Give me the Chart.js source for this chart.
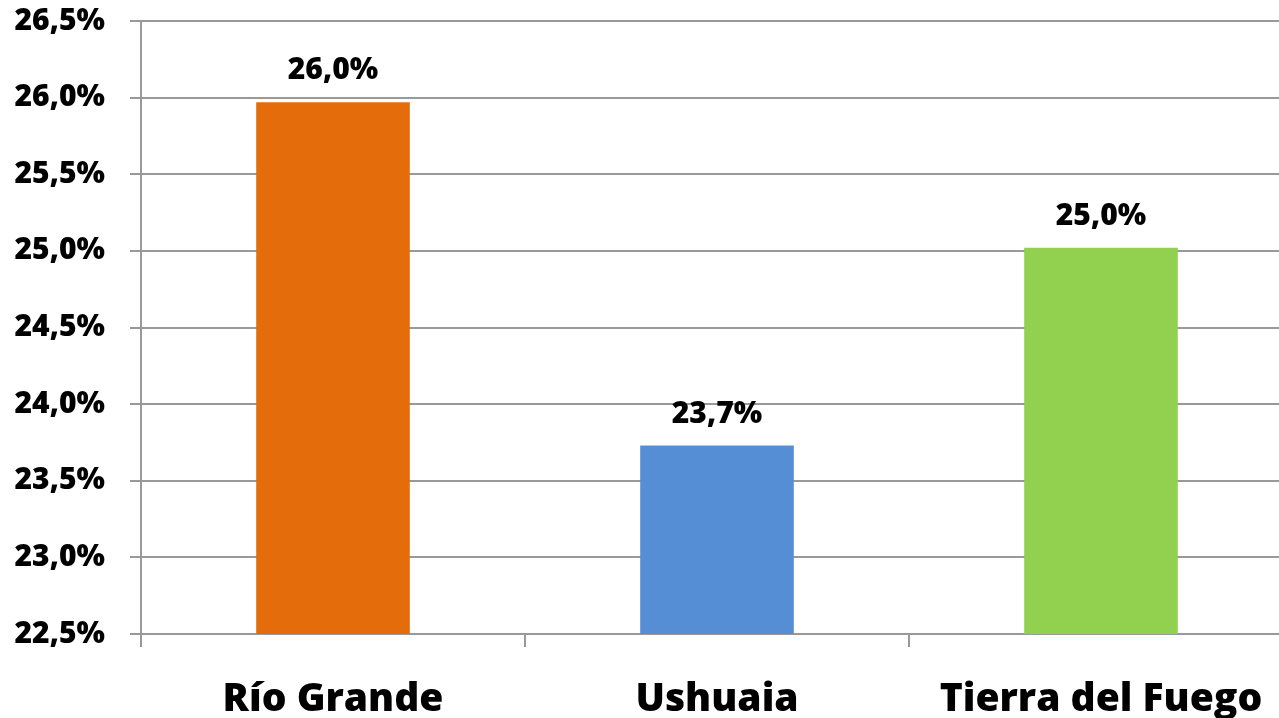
<!DOCTYPE html>
<html>
<head>
<meta charset="utf-8">
<script src="https://cdn.jsdelivr.net/npm/chart.js@4.4.1/dist/chart.umd.min.js"></script>
<style>
  html, body { margin: 0; padding: 0; background: #fff; overflow: hidden; }
  #wrap { width: 1300px; height: 718px; position: relative; }
</style>
</head>
<body>
<div id="wrap"><canvas id="c"></canvas></div>
<script>
const categories = ['Río Grande', 'Ushuaia', 'Tierra del Fuego'];
const values = [25.97, 23.73, 25.02];
const barColors = ['#E46C0A', '#558ED5', '#92D050'];
const yMin = 22.5, yMax = 26.5, yStep = 0.5;

const fmt = v => v.toFixed(1).replace('.', ',') + '%';
const FONT = "'Open Sans', sans-serif";
const gridColor = '#999999';

const valueLabels = {
  id: 'valueLabels',
  afterDatasetsDraw(chart) {
    const ctx = chart.ctx;
    const meta = chart.getDatasetMeta(0);
    ctx.save();
    ctx.font = "800 30px " + FONT;
    ctx.fillStyle = '#000';
    ctx.textAlign = 'center';
    ctx.textBaseline = 'alphabetic';
    meta.data.forEach((bar, i) => {
      ctx.fillText(fmt(values[i]), bar.x, bar.y - 23);
    });
    ctx.restore();
  }
};

new Chart(document.getElementById('c'), {
  type: 'bar',
  data: {
    labels: categories,
    datasets: [{
      data: values,
      backgroundColor: barColors,
      borderWidth: 0,
      barPercentage: 0.4,
      categoryPercentage: 1.0
    }]
  },
  options: {
    responsive: true,
    maintainAspectRatio: false,
    animation: false,
    layout: { padding: { top: 0, right: 7, left: 0, bottom: 0 } },
    plugins: { legend: { display: false }, tooltip: { enabled: false } },
    scales: {
      x: {
        offset: true,
        grid: { offset: true, drawOnChartArea: false, color: gridColor, lineWidth: 2, tickLength: 13 },
        border: { display: true, color: gridColor, width: 2 },
        ticks: { color: '#000', font: { family: FONT, size: 39, weight: 800 }, padding: 29, maxRotation: 0 },
        afterFit: s => { s.height = 84; }
      },
      y: {
        min: yMin, max: yMax,
        grid: { color: gridColor, lineWidth: 2, tickLength: 11 },
        border: { display: true, color: gridColor, width: 2 },
        ticks: {
          stepSize: yStep,
          color: '#000',
          font: { family: FONT, size: 30, weight: 800 },
          padding: 25,
          callback: v => fmt(v)
        },
        afterFit: s => { s.width = 141; s.paddingTop = 21; }
      }
    }
  },
  plugins: [valueLabels]
});
</script>
</body>
</html>
